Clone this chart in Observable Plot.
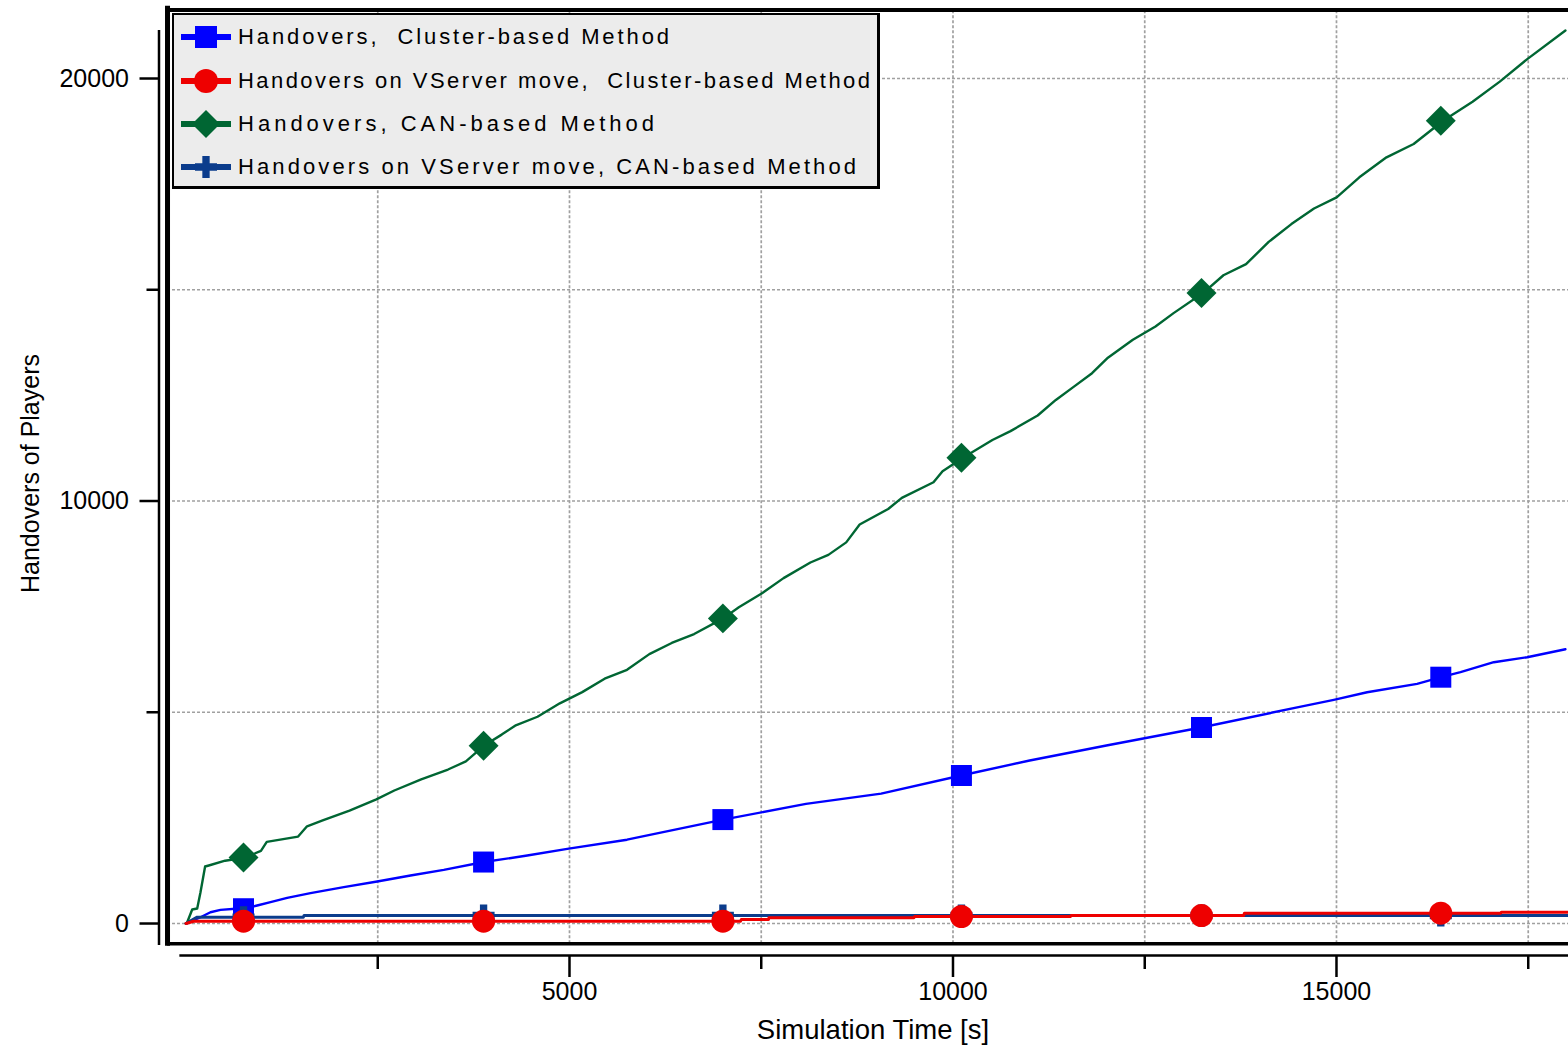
<!DOCTYPE html>
<html>
<head>
<meta charset="utf-8">
<script src="https://cdn.jsdelivr.net/npm/d3@7"></script>
<script src="https://cdn.jsdelivr.net/npm/@observablehq/plot@0.6"></script>
<style>
  html, body { margin: 0; padding: 0; background: #fff; }
  #wrap { position: relative; width: 1568px; height: 1047px; font-family: "Liberation Sans", Arial, sans-serif; overflow: hidden; }
  #legend { position: absolute; left: 172px; top: 13px; width: 708px; height: 176px; box-sizing: border-box;
            background: #ececec; border: 2px solid #000; border-right-width: 3px; border-bottom-width: 3px; }
  .row { position: absolute; left: 0; height: 30px; }
  .row svg { position: absolute; left: 7px; top: 0; }
  .row span { position: absolute; left: 64px; top: 0; white-space: pre; font-size: 22px; color: #000; line-height: 30px; }
  .title { position: absolute; white-space: pre; color: #000; }
</style>
</head>
<body>
<div id="wrap"></div>
<script>
// ---- Data (time [s], handovers) ----
const clusterHandovers = [[0,0],[16,7],[189,149],[319,267],[450,324],[645,348],[767,350],[928,426],[1102,505],[1319,607],[1623,718],[2057,860],[2493,994],[2927,1136],[3361,1270],[3883,1455],[4449,1609],[4991,1773],[5750,1984],[7004,2460],[8083,2831],[9063,3074],[10107,3503],[11000,3858],[12000,4213],[13236,4639],[14536,5134],[14965,5294],[15399,5474],[16051,5673],[16365,5830],[16617,5948],[17051,6185],[17486,6303],[17985,6492]];
const clusterMoveHandovers = [[0,0],[100,55],[7230,55],[7240,95],[7594,95],[7600,134],[9490,134],[9500,166],[11530,166],[11540,189],[13790,189],[13800,244],[17140,244],[17150,268],[18025,268]];
const canHandovers = [[0,0],[16,31],[81,331],[146,355],[189,741],[249,1349],[297,1373],[510,1487],[772,1561],[977,1720],[1053,1931],[1462,2058],[1578,2302],[1782,2439],[2132,2672],[2482,2937],[2716,3148],[3066,3413],[3416,3645],[3649,3836],[3883,4206],[4116,4471],[4291,4683],[4583,4894],[4874,5212],[5166,5476],[5458,5794],[5750,6005],[6041,6376],[6333,6640],[6625,6852],[7004,7222],[7208,7487],[7500,7804],[7791,8175],[8141,8545],[8375,8725],[8608,9021],[8783,9444],[9155,9811],[9333,10074],[9746,10443],[9864,10706],[10130,11023],[10514,11444],[10750,11655],[11104,12024],[11341,12392],[11577,12708],[11813,13025],[12020,13393],[12345,13815],[12640,14131],[12876,14447],[13260,14921],[13526,15343],[13821,15606],[14116,16133],[14412,16554],[14707,16923],[15002,17187],[15298,17661],[15652,18135],[16006,18451],[16390,18999],[16774,19452],[17129,19926],[17483,20453],[17985,21138]];
const canMoveHandovers = [[0,0],[146,150],[1530,150],[1540,190],[18025,190]];

const markerTimes = [750, 3880, 7000, 10110, 13240, 16360];
const clusterMarks = [350, 1455, 2460, 3503, 4639, 5830];
const clusterMoveMarks = [55, 55, 55, 166, 189, 244];
const canMarks = [1561, 4206, 7222, 11023, 14921, 18999];
const canMoveMarks = [150, 190, 190, 190, 190, 190];

const xMinorTicks = [2500, 7500, 12500, 17500];
const xMajorTicks = [5000, 10000, 15000];
const yMajorTicks = [0, 10000, 20000];
const yMinorTicks = [5000, 15000];
const xGrid = [2500, 5000, 7500, 10000, 12500, 15000, 17500];
const yGrid = [0, 5000, 10000, 15000, 20000];

const seriesNames = [
  "Handovers,  Cluster-based Method",
  "Handovers on VServer move,  Cluster-based Method",
  "Handovers, CAN-based Method",
  "Handovers on VServer move, CAN-based Method"
];
const seriesColors = ["#0000ff", "#ee0000", "#006633", "#0b3c8c"];

// ---- scale extents (layout) ----
const xDomain = [-352, 18025];
const yDomain = [-757, 21657];
const frameLeft = -241, frameTop = 21621, frameBottom = -480, tEnd = 18025;
const fmt = d => String(d);

const chart = Plot.plot({
  width: 1568,
  height: 1047,
  marginLeft: 158.5,
  marginRight: 0,
  marginTop: 8,
  marginBottom: 92,
  style: {fontFamily: "'Liberation Sans', Arial, sans-serif", fontSize: "25px", color: "#000", background: "transparent"},
  x: {domain: xDomain},
  y: {domain: yDomain},
  marks: [
    // grid
    Plot.ruleX(xGrid, {x: d => d, y1: frameBottom, y2: frameTop, stroke: "#a0a0a0", strokeWidth: 1.7, strokeDasharray: "3,2"}),
    Plot.ruleY(yGrid, {y: d => d, x1: frameLeft, x2: tEnd, stroke: "#a0a0a0", strokeWidth: 1.7, strokeDasharray: "3,2"}),
    // frame lines
    Plot.ruleX([frameLeft], {x: d => d, y1: frameBottom - 60, y2: frameTop + 90, stroke: "#000", strokeWidth: 5}),
    Plot.ruleY([frameTop], {y: d => d, x1: frameLeft, x2: tEnd, stroke: "#000", strokeWidth: 4}),
    Plot.ruleY([frameBottom], {y: d => d, x1: frameLeft, x2: tEnd, stroke: "#000", strokeWidth: 3.5}),
    // y axis line
    Plot.ruleX([xDomain[0]], {x: d => d, y1: -520, y2: 21136, stroke: "#000", strokeWidth: 2.5}),
    // x axis line
    Plot.ruleY([yDomain[0]], {y: d => d, x1: -80, x2: tEnd, stroke: "#000", strokeWidth: 2.5}),
    Plot.axisY({ticks: yMajorTicks, tickSize: 19, tickPadding: 11, fontSize: 25, strokeWidth: 2.5, tickFormat: fmt, label: null}),
    Plot.axisY({ticks: yMinorTicks, tickSize: 12, tickFormat: () => "", strokeWidth: 2.5, label: null}),
    Plot.axisX({ticks: xMinorTicks, tickSize: 14, tickFormat: () => "", strokeWidth: 2.5, label: null}),
    Plot.axisX({ticks: xMajorTicks, tickSize: 22, tickPadding: 5, fontSize: 25, strokeWidth: 2.5, tickFormat: fmt, label: null}),
    // lines
    Plot.line(clusterHandovers, {x: d => d[0], y: d => d[1], stroke: seriesColors[0], strokeWidth: 2.4}),
    Plot.line(canHandovers, {x: d => d[0], y: d => d[1], stroke: seriesColors[2], strokeWidth: 2.4}),
    Plot.line(canMoveHandovers, {x: d => d[0], y: d => d[1], stroke: seriesColors[3], strokeWidth: 3}),
    Plot.line(clusterMoveHandovers, {x: d => d[0], y: d => d[1], stroke: seriesColors[1], strokeWidth: 3}),
    // markers
    Plot.dot(markerTimes, {x: d => d, y: (d, i) => clusterMarks[i], symbol: "square", r: 11.85, fill: seriesColors[0]}),
    Plot.dot(markerTimes, {x: d => d, y: (d, i) => canMarks[i], symbol: "diamond2", r: 13.5, fill: seriesColors[2]}),
    Plot.dot(markerTimes, {x: d => d, y: (d, i) => canMoveMarks[i], symbol: "cross", r: 9.25, fill: seriesColors[3]}),
    Plot.dot(markerTimes, {x: d => d, y: (d, i) => clusterMoveMarks[i], symbol: "circle", r: 11.5, fill: seriesColors[1]})
  ]
});

const wrap = document.getElementById("wrap");
chart.style.position = "absolute";
chart.style.left = "0px";
chart.style.top = "0px";
wrap.appendChild(chart);

// ---- legend ----
const legend = document.createElement("div");
legend.id = "legend";
wrap.appendChild(legend);
const symbolPaths = [
  d3.symbol(d3.symbolSquare, 484)(),
  d3.symbol(d3.symbolCircle, 452)(),
  d3.symbol(d3.symbolDiamond2, 500)(),
  d3.symbol(d3.symbolCross, 269)()
];
const rowCenters = [22, 66, 109, 152];
const textWidths = [431, 632, 416, 618];   // target text extents in the legend
seriesNames.forEach((name, i) => {
  const row = document.createElement("div");
  row.className = "row";
  row.style.top = (rowCenters[i] - 15) + "px";
  row.style.width = "700px";
  row.innerHTML = `<svg width="52" height="30" viewBox="0 0 52 30">
      <line x1="0" y1="15" x2="50" y2="15" stroke="${seriesColors[i]}" stroke-width="6"/>
      <path d="${symbolPaths[i]}" transform="translate(25,15)" fill="${seriesColors[i]}"/>
    </svg><span>${name}</span>`;
  legend.appendChild(row);
  const sp = row.querySelector("span");
  const w0 = sp.getBoundingClientRect().width;
  sp.style.letterSpacing = ((textWidths[i] - w0) / (name.length - 1)) + "px";
});

// ---- axis titles ----
const xt = document.createElement("div");
xt.className = "title";
xt.style.fontSize = "27.5px";
xt.textContent = "Simulation Time [s]";
wrap.appendChild(xt);
const xr = xt.getBoundingClientRect();
xt.style.left = (873 - xr.width / 2) + "px";
xt.style.top = (1030 - xr.height / 2) + "px";

const yt = document.createElement("div");
yt.className = "title";
yt.style.fontSize = "25px";
yt.textContent = "Handovers of Players";
wrap.appendChild(yt);
const yr = yt.getBoundingClientRect();
yt.style.left = (30 - yr.width / 2) + "px";
yt.style.top = (473 - yr.height / 2) + "px";
yt.style.transform = "rotate(-90deg)";
</script>
</body>
</html>
